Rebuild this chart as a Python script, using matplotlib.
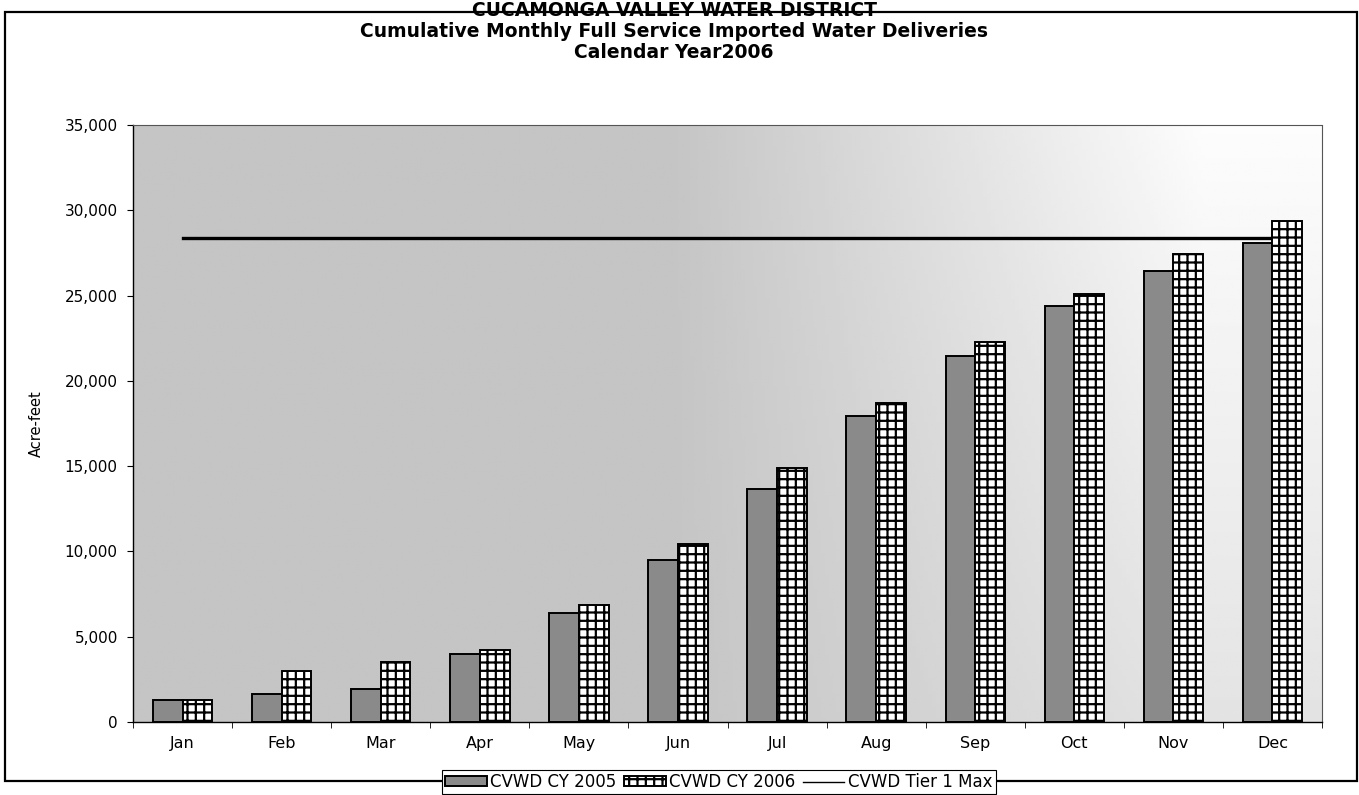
import numpy as np
import matplotlib
matplotlib.use("Agg")
import matplotlib.pyplot as plt
from matplotlib.patches import Rectangle
from matplotlib.ticker import FuncFormatter, MultipleLocator

# data
months = ["Jan", "Feb", "Mar", "Apr", "May", "Jun", "Jul", "Aug", "Sep", "Oct", "Nov", "Dec"]
cy2005 = [1290, 1620, 1915, 3965, 6410, 9470, 13670, 17920, 21450, 24390, 26460, 28100]
cy2006 = [1290, 3010, 3515, 4220, 6835, 10440, 14910, 18700, 22290, 25090, 27430, 29370]
tier1_max = 28350

plt.rcParams['font.family'] = ['DejaVu Sans']
plt.rcParams['hatch.linewidth'] = 1.6

fig = plt.figure(figsize=(13.59, 7.95), dpi=100)
ax = fig.add_axes([0.0979, 0.0918, 0.8749, 0.751])

x = np.arange(len(months))
w = 0.3

ax.set_xlim(-0.5, len(months) - 0.5)
ax.set_ylim(0, 35000)

# stippled grey plot area, fading out toward the right / upper right
gx, gy = np.meshgrid(np.linspace(0, 1, 300), np.linspace(0, 1, 200))
fade = np.clip((gx - 0.45) / 0.45, 0, 1) * (0.55 + 0.45 * gy)
shade = 0.77 + 0.22 * fade
ax.imshow(shade, cmap="gray", vmin=0, vmax=1, origin="lower", aspect="auto",
          extent=[-0.5, len(months) - 0.5, 0, 35000], zorder=0)

ax.plot([x[0], x[-1]], [tier1_max, tier1_max], color="black", lw=2.4, zorder=2,
        label="CVWD Tier 1 Max")
ax.bar(x - w / 2, cy2005, width=w, color="#8a8a8a", edgecolor="black", lw=1.4,
       zorder=3, label="CVWD CY 2005")
ax.bar(x + w / 2, cy2006, width=w, color="white", edgecolor="black", lw=1.4,
       hatch="++", zorder=3, label="CVWD CY 2006")

ax.yaxis.set_major_locator(MultipleLocator(5000))
ax.yaxis.set_major_formatter(FuncFormatter(lambda v, p: f"{int(v):,}"))
ax.set_xticks(x)
ax.set_xticklabels(months)
ax.set_xticks(np.arange(-0.5, len(months)), minor=True)
ax.tick_params(axis="x", which="major", length=0, pad=10, labelsize=11.5)
ax.tick_params(axis="x", which="minor", length=4, direction="out")
ax.tick_params(axis="y", length=4, direction="out", labelsize=11, pad=7)

for s in ["top", "right"]:
    ax.spines[s].set_color("#555555")
    ax.spines[s].set_linewidth(0.8)
    ax.spines[s].set_linestyle((0, (1, 1)))
ax.spines["left"].set_linewidth(1.0)
ax.spines["bottom"].set_linewidth(1.0)

ax.set_ylabel("Acre-feet", family=["Liberation Sans Narrow", "DejaVu Sans"],
              fontsize=10.5, labelpad=15)

# outer chart border
fig.patches.append(Rectangle((0.0037, 0.0176), 0.9948, 0.9674, transform=fig.transFigure,
                             fill=False, edgecolor="black", lw=1.6, zorder=1))

fig.text(0.496, 0.987, "CUCAMONGA VALLEY WATER DISTRICT", ha="center", va="center",
         fontsize=13.5, fontweight="bold")
fig.text(0.496, 0.961, "Cumulative Monthly Full Service Imported Water Deliveries",
         ha="center", va="center", fontsize=13.5, fontweight="bold")
fig.text(0.496, 0.934, "Calendar Year2006", ha="center", va="center",
         fontsize=13.5, fontweight="bold")

handles, labels = ax.get_legend_handles_labels()
order = [1, 2, 0]
leg = fig.legend([handles[i] for i in order], [labels[i] for i in order],
                 loc="center left", bbox_to_anchor=(0.3252, 0.0164), ncol=3, fontsize=12,
                 frameon=True, fancybox=False, edgecolor="black", framealpha=1,
                 handlelength=2.5, handleheight=0.55, handletextpad=0.2,
                 columnspacing=0.45, borderpad=0.2, borderaxespad=0)
leg.get_frame().set_linewidth(0.8)
for line in leg.get_lines():
    line.set_linewidth(1.0)
leg.set_zorder(5)

fig.savefig("out.png", dpi=100)
